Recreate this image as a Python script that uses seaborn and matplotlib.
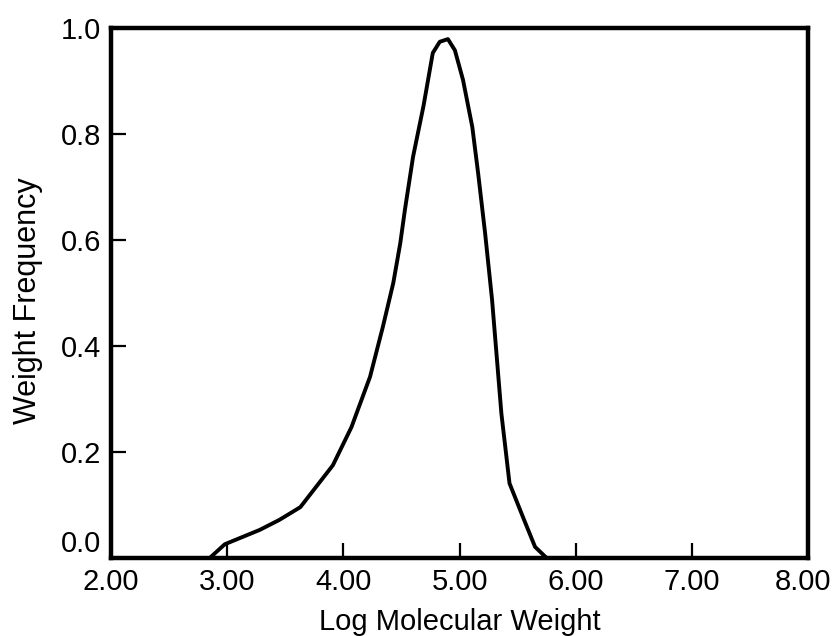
import pandas as pd
import matplotlib
matplotlib.use('Agg')
import matplotlib.pyplot as plt
import matplotlib.transforms as mtransforms
import seaborn as sns

# values
log_mw = [2.85, 2.98, 3.28, 3.45, 3.63, 3.91, 4.07, 4.23, 4.34, 4.43, 4.49, 4.53, 4.60, 4.69,
          4.77, 4.83, 4.90, 4.96, 5.03, 5.11, 5.16, 5.22, 5.28, 5.36, 5.43, 5.55, 5.65, 5.75]
weight_freq = [0.0, 0.026, 0.053, 0.072, 0.096, 0.175, 0.247, 0.342, 0.436, 0.519, 0.594, 0.657, 0.757, 0.853,
               0.953, 0.974, 0.979, 0.958, 0.902, 0.813, 0.726, 0.613, 0.487, 0.273, 0.141, 0.075, 0.021, 0.0]

x_ticks = [2, 3, 4, 5, 6, 7, 8]
y_ticks = [0.0, 0.2, 0.4, 0.6, 0.8, 1.0]

sns.set_style('ticks')
plt.rcParams['font.family'] = ['Liberation Sans', 'DejaVu Sans']

df = pd.DataFrame({'x': log_mw, 'y': weight_freq})

fig = plt.figure(figsize=(8.34, 6.36), dpi=100)
ax = fig.add_axes([0.133, 0.1226, 0.836, 0.8334])

sns.lineplot(data=df, x='x', y='y', color='black', linewidth=2.8, ax=ax, sort=False)

ax.set_xlim(2, 8)
ax.set_ylim(0, 1.0)
ax.set_xticks(x_ticks)
ax.set_xticklabels([f'{t:.2f}' for t in x_ticks])
ax.set_yticks(y_ticks)
ax.set_yticklabels([f'{t:.1f}' for t in y_ticks])

for s in ax.spines.values():
    s.set_linewidth(3.2)
    s.set_color('black')

ax.tick_params(direction='in', length=11, width=1.6, labelsize=21, colors='black')
ax.tick_params(axis='x', pad=7)
ax.tick_params(axis='y', pad=7)
# the 0.0 label sits above the axis line in the original
ax.get_yticklabels()[0].set_verticalalignment('bottom')
# nudge 8.00 so it stays inside the picture
last = ax.get_xticklabels()[-1]
last.set_transform(last.get_transform() + mtransforms.ScaledTranslation(-5 / 100, 0, fig.dpi_scale_trans))

ax.set_xlabel('Log Molecular Weight', fontsize=21, labelpad=9, color='black')
ax.set_ylabel('Weight Frequency', fontsize=22, color='black')
ax.yaxis.set_label_coords(-0.098, 0.485)

fig.savefig('out.png', dpi=100)
